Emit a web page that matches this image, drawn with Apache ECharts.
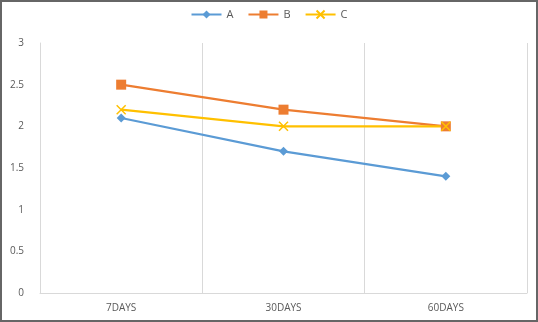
<!DOCTYPE html>
<html><head><meta charset="utf-8">
<script src="https://cdn.jsdelivr.net/npm/echarts@6/dist/echarts.min.js"></script>
<style>html,body{margin:0;padding:0;background:#fff}#c{width:538px;height:322px}</style>
</head><body><div id="c"></div>
<script>
const categories = ['7DAYS', '30DAYS', '60DAYS'];
const seriesA = [2.1, 1.7, 1.4];
const seriesB = [2.5, 2.2, 2.0];
const seriesC = [2.2, 2.0, 2.0];
const yTicks = [0, 0.5, 1, 1.5, 2, 2.5, 3];

const chart = echarts.init(document.getElementById('c'), null, {renderer: 'canvas'});
const font = 'Open Sans';
chart.setOption({
  animation: false,
  backgroundColor: '#fff',
  textStyle: {fontFamily: font},
  graphic: [{type: 'rect', shape: {x: 1, y: 1, width: 536, height: 320}, style: {fill: 'none', stroke: '#666', lineWidth: 2}, silent: true}],
  legend: {
    top: 4, left: 'center', itemWidth: 30, itemHeight: 10, itemGap: 14,
    textStyle: {color: '#595959', fontSize: 11, fontFamily: font},
    data: ['A', 'B', 'C']
  },
  grid: {left: 40, right: 11, top: 43, bottom: 29},
  xAxis: {
    type: 'category', data: categories, boundaryGap: true,
    axisLine: {lineStyle: {color: '#d9d9d9'}},
    axisTick: {show: false},
    axisLabel: {color: '#595959', fontSize: 10, margin: 10},
    splitLine: {show: true, lineStyle: {color: '#d9d9d9'}}
  },
  yAxis: {
    type: 'value', min: yTicks[0], max: yTicks[yTicks.length - 1], interval: 0.5,
    axisLine: {show: true, lineStyle: {color: '#d9d9d9'}},
    axisTick: {show: false},
    axisLabel: {color: '#595959', fontSize: 10, margin: 16},
    splitLine: {show: false}
  },
  series: [
    {name: 'A', type: 'line', data: seriesA, color: '#5b9bd5', symbol: 'diamond', symbolSize: 9, lineStyle: {width: 2.25, color: '#5b9bd5'}},
    {name: 'B', type: 'line', data: seriesB, color: '#ed7d31', symbol: 'rect', symbolSize: 10, lineStyle: {width: 2.25, color: '#ed7d31'}},
    {name: 'C', type: 'line', data: seriesC, color: '#ffc000', symbol: 'path://M0,0 L10,10 M10,0 L0,10', symbolSize: 9, itemStyle: {borderColor: '#ffc000', borderWidth: 1.5, color: '#ffc000'}, lineStyle: {width: 2.25, color: '#ffc000'}}
  ]
});
</script></body></html>
